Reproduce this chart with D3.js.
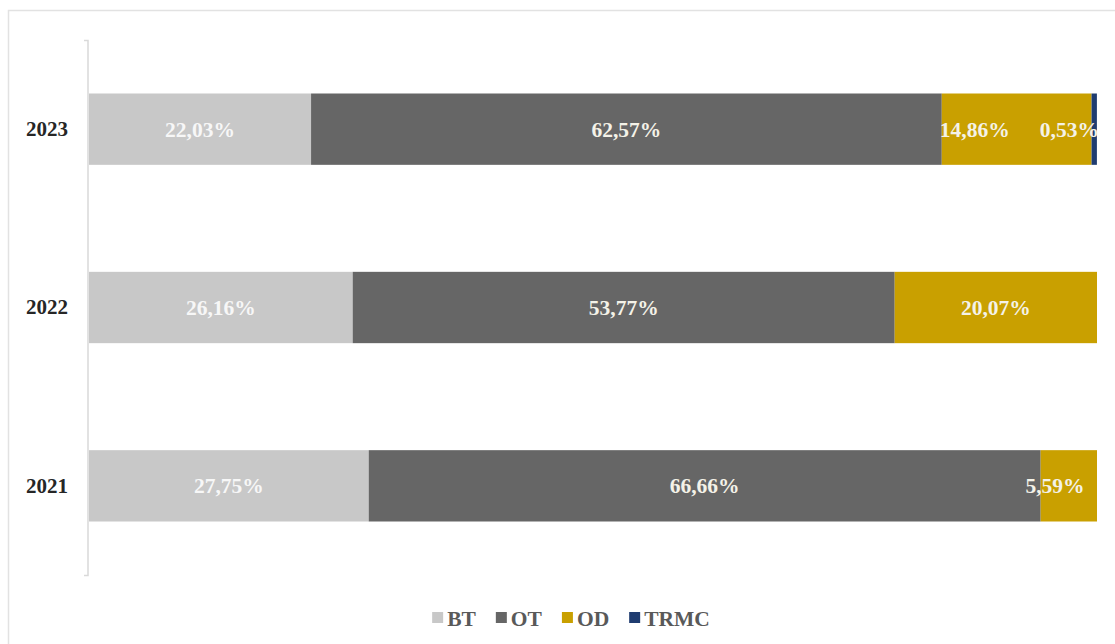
<!DOCTYPE html>
<html>
<head>
<meta charset="utf-8">
<script src="https://cdn.jsdelivr.net/npm/d3@7"></script>
<style>
  html, body { margin: 0; padding: 0; background: #fff; }
  svg { display: block; }
</style>
</head>
<body>
<svg id="chart" width="1115" height="644"></svg>
<script>
// Share of each type per year (percent)
const years = ["2023", "2022", "2021"];
const series = ["BT", "OT", "OD", "TRMC"];
const BT   = [22.03, 26.16, 27.75];
const OT   = [62.57, 53.77, 66.66];
const OD   = [14.86, 20.07, 5.59];
const TRMC = [0.53, 0, 0];
const colors = ["#c8c8c8", "#666666", "#c9a000", "#1f3c70"];

const FONT = "'Liberation Serif', 'DejaVu Serif', serif";

const rows = years.map((y, i) => ({ year: y, BT: BT[i], OT: OT[i], OD: OD[i], TRMC: TRMC[i] }));
const stacked = d3.stack().keys(series)(rows);

const svg = d3.select("#chart");

// outer frame
svg.append("rect")
  .attr("x", 8.5).attr("y", 10.5)
  .attr("width", 1120).attr("height", 650)
  .attr("fill", "none").attr("stroke", "#e2e2e2").attr("stroke-width", 1.5);

const x = d3.scaleLinear().domain([0, 100]).range([89, 1097]);
const y = d3.scaleBand().domain(years).range([40, 575])
  .paddingInner(0.6).paddingOuter(0.3);

// category axis
const axis = d3.axisLeft(y).tickSize(0).tickPadding(20);
const gAxis = svg.append("g").attr("transform", `translate(${x(0) - 1},0)`).call(axis)
  .attr("font-family", FONT);
gAxis.select(".domain").attr("stroke", "#d9d9d9").attr("stroke-width", 1.5)
  .attr("d", `M-4,40.5H0V575.5H-4`);
gAxis.selectAll(".tick text")
  .attr("font-size", 21).attr("fill", "#262626")
  .attr("font-family", FONT).attr("font-weight", "bold");

// bars
const layer = svg.append("g").selectAll("g")
  .data(stacked).join("g")
  .attr("fill", (d, i) => colors[i]);

layer.selectAll("rect")
  .data(d => d.filter(s => s[1] - s[0] > 0))
  .join("rect")
  .attr("x", d => x(d[0]))
  .attr("y", d => y(d.data.year))
  .attr("width", d => x(d[1]) - x(d[0]))
  .attr("height", y.bandwidth());

// value labels
const fmt = v => v.toFixed(2).replace(".", ",") + "%";
const labels = [];
stacked.forEach((s, si) => {
  s.forEach(seg => {
    const v = seg[1] - seg[0];
    if (v <= 0) return;
    labels.push({ key: series[si], year: seg.data.year, v, x0: x(seg[0]), x1: x(seg[1]), row: seg.data });
  });
});

labels.forEach(l => {
  let anchor = "middle", px = (l.x0 + l.x1) / 2;
  const hasTRMC = l.row.TRMC > 0;
  if (l.key === "TRMC") { anchor = "end"; px = l.x1 + 2; }
  else if (l.key === "OD" && hasTRMC) { anchor = "start"; px = l.x0 - 2; }
  else if (l.key === "OD" && l.x1 - l.x0 < 80) { anchor = "middle"; px = l.x1 - 42; }
  svg.append("text")
    .attr("x", px)
    .attr("y", y(l.year) + y.bandwidth() / 2)
    .attr("dy", "0.35em")
    .attr("text-anchor", anchor)
    .attr("font-family", FONT).attr("font-weight", "bold")
    .attr("font-size", 21.5)
    .attr("fill", l.key === "BT" ? "#f7f7f7" : "#f4f2e8")
    .text(fmt(l.v));
});

// legend
const legend = svg.append("g");
const gap = 20;
let cx = 0;
series.forEach((s, i) => {
  const g = legend.append("g").attr("transform", `translate(${cx},0)`);
  g.append("rect").attr("x", 0).attr("y", -6).attr("width", 11).attr("height", 11).attr("fill", colors[i]);
  const t = g.append("text").attr("x", 15).attr("y", 0).attr("dy", "0.35em")
    .attr("font-family", FONT).attr("font-weight", "bold")
    .attr("font-size", 21.5).attr("fill", "#595959").text(s);
  cx += 15 + t.node().getComputedTextLength() + gap;
});
const lw = cx - gap;
legend.attr("transform", `translate(${571 - lw / 2},618)`);
</script>
</body>
</html>
